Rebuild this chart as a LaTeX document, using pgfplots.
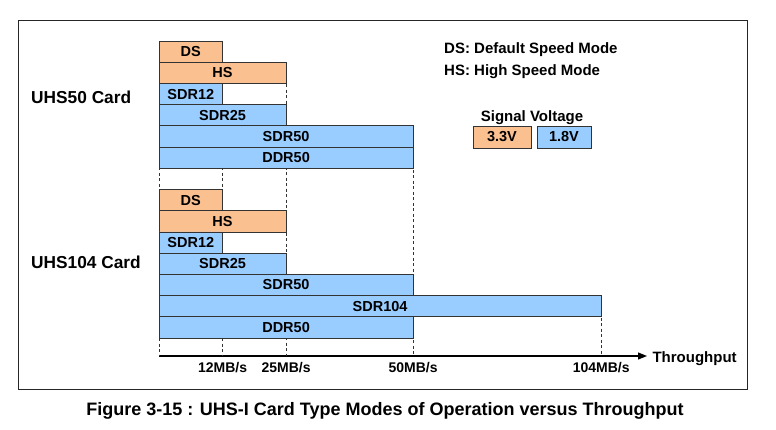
\documentclass[border=0pt]{standalone}
\usepackage{pgfplots}
\pgfplotsset{compat=1.18}
\usepackage{pgfplotstable}
\usetikzlibrary{arrows.meta}
\usepackage{fontspec}
\setmainfont{Liberation Sans}
\definecolor{peach}{HTML}{FAC090}
\definecolor{skyb}{HTML}{99CCFF}
\definecolor{edge}{HTML}{333333}

% bars: x = throughput (MB/s), y = row (top row = 13)
\pgfplotstableread{
x y
12.5 13
25 12
12.5 6
25 5
}\orangebars
\pgfplotstableread{
x y
12.5 11
25 10
50 9
50 8
12.5 4
25 3
50 2
104 1
50 0
}\bluebars
\pgfplotstableread{
x y lab
6.25 13 DS
12.5 12 HS
6.25 11 SDR12
12.5 10 SDR25
25 9 SDR50
25 8 DDR50
6.25 6 DS
12.5 5 HS
6.25 4 SDR12
12.5 3 SDR25
25 2 SDR50
43.5 1 SDR104
25 0 DDR50
}\barlabels

\begin{document}
\begin{tikzpicture}
\path[fill=white] (0,0) rectangle (776pt,-430pt);
\draw[line width=0.9pt, black!85] (18pt,-20pt) rectangle (747pt,-389pt);

\begin{axis}[
  at={(159pt,-356pt)}, anchor=south west,
  scale only axis, width=488pt, height=315pt,
  x coord trafo/.code={\pgfmathparse{(#1>50)*(50+(#1-50)*37/54)+(#1<=50)*#1}},
  x coord inv trafo/.code={\pgfmathparse{(#1>50)*(50+(#1-50)*54/37)+(#1<=50)*#1}},
  xmin=0, xmax=117.14, ymin=-1.35, ymax=13.5,
  enlargelimits=false, clip=false,
  axis x line=bottom, axis y line=none,
  x axis line style={line width=1.1pt, -{Triangle[length=9pt,width=7pt]}},
  xtick={12.5,25,50,104},
  xticklabels={12MB/s,25MB/s,50MB/s,104MB/s},
  major tick length=0pt,
  xticklabel style={font=\bfseries\fontsize{14}{16}\selectfont, anchor=base, yshift=-16.5pt},
  xlabel={Throughput},
  xlabel style={at={(rel axis cs:1,0)}, anchor=base west, xshift=2pt, yshift=-6pt,
    font=\bfseries\fontsize{15}{17}\selectfont},
]
% dashed guide lines
\addplot[black!80, dash pattern=on 3pt off 2.5pt, line width=0.7pt] coordinates {(0,13.5) (0,-1.35)};
\addplot[black!80, dash pattern=on 3pt off 2.5pt, line width=0.7pt] coordinates {(12.5,13.5) (12.5,-1.35)};
\addplot[black!80, dash pattern=on 3pt off 2.5pt, line width=0.7pt] coordinates {(25,12.5) (25,-1.35)};
\addplot[black!80, dash pattern=on 3pt off 2.5pt, line width=0.7pt] coordinates {(50,9.5) (50,-1.35)};
\addplot[black!80, dash pattern=on 3pt off 2.5pt, line width=0.7pt] coordinates {(104,1.5) (104,-1.35)};
% bars
\addplot[xbar, bar width=21.2pt, bar shift=0pt, fill=peach, draw=edge, line width=0.8pt] table[x=x,y=y] {\orangebars};
\addplot[xbar, bar width=21.2pt, bar shift=0pt, fill=skyb, draw=edge, line width=0.8pt] table[x=x,y=y] {\bluebars};
% labels
\addplot[only marks, mark=none, nodes near coords, point meta=explicit symbolic,
  nodes near coords align={center},
  every node near coord/.append style={font=\bfseries\fontsize{14.5}{16}\selectfont, anchor=center, text=black}]
  table[x=x,y=y,meta=lab] {\barlabels};
\end{axis}

\node[anchor=west, inner sep=0pt, font=\bfseries\fontsize{17.3}{19}\selectfont] at (31pt,-97pt) {UHS50 Card};
\node[anchor=west, inner sep=0pt, font=\bfseries\fontsize{17.3}{19}\selectfont] at (31pt,-262pt) {UHS104 Card};

\node[anchor=base west, inner sep=0pt, font=\bfseries\fontsize{15}{17}\selectfont] at (444pt,-54pt) {DS: Default Speed Mode};
\node[anchor=base west, inner sep=0pt, font=\bfseries\fontsize{15}{17}\selectfont] at (444pt,-76pt) {HS: High Speed Mode};
\node[anchor=base, inner sep=0pt, font=\bfseries\fontsize{15}{17}\selectfont] at (532pt,-122pt) {Signal Voltage};
\draw[fill=peach, draw=edge, line width=0.8pt] (473pt,-126pt) rectangle (531pt,-148pt);
\draw[fill=skyb, draw=edge, line width=0.8pt] (537pt,-126pt) rectangle (591pt,-148pt);
\node[font=\bfseries\fontsize{14.5}{16}\selectfont] at (502pt,-137pt) {3.3V};
\node[font=\bfseries\fontsize{14.5}{16}\selectfont] at (564pt,-137pt) {1.8V};

\node[anchor=base, inner sep=0pt, font=\bfseries\fontsize{18}{20}\selectfont] at (385pt,-415pt) {Figure 3-15 : UHS-I Card Type Modes of Operation versus Throughput};
\end{tikzpicture}
\end{document}
